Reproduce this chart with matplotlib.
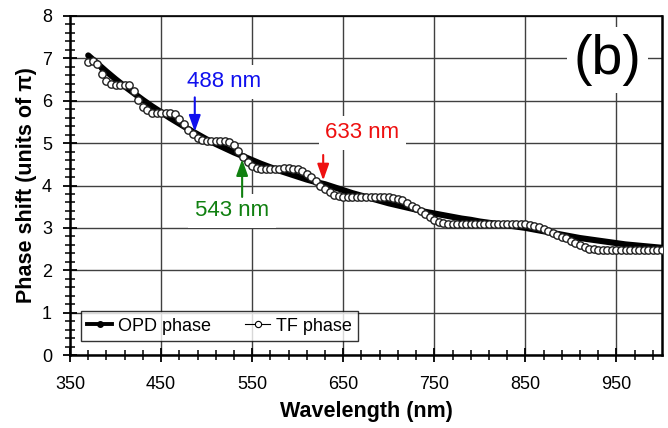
import numpy as np
import matplotlib
matplotlib.use("Agg")
import matplotlib.pyplot as plt
from matplotlib.lines import Line2D

plt.rcParams['font.family'] = ['Liberation Sans', 'DejaVu Sans']

# ---------------- data ----------------
opd_wl = [370, 380, 390, 400, 410, 420, 430, 440, 450, 460, 470, 480, 490, 500,
          510, 520, 530, 540, 550, 560, 570, 580, 590, 600, 610, 620, 630, 640,
          650, 660, 670, 680, 690, 700, 710, 720, 730, 740, 750, 760, 770, 780,
          790, 800, 810, 820, 830, 840, 850, 860, 870, 880, 890, 900, 910, 920,
          930, 940, 950, 960, 970, 980, 990, 1000]
opd_phase = [7.07, 6.88, 6.69, 6.51, 6.34, 6.18, 6.02, 5.87, 5.73, 5.59, 5.46,
             5.33, 5.21, 5.09, 4.98, 4.88, 4.78, 4.69, 4.60, 4.51, 4.43, 4.35,
             4.28, 4.21, 4.14, 4.08, 4.03, 3.96, 3.89, 3.82, 3.76, 3.70, 3.64,
             3.58, 3.53, 3.48, 3.43, 3.38, 3.34, 3.30, 3.26, 3.22, 3.19, 3.15,
             3.12, 3.09, 3.06, 3.03, 3.00, 2.96, 2.92, 2.88, 2.84, 2.80, 2.76,
             2.73, 2.70, 2.67, 2.64, 2.61, 2.59, 2.57, 2.55, 2.53]

tf_wl = [370, 375, 380, 385, 390, 395, 400, 405, 410, 415, 420, 425, 430, 435,
         440, 445, 450, 455, 460, 465, 470, 475, 480, 485, 490, 495, 500, 505,
         510, 515, 520, 525, 530, 535, 540, 545, 550, 555, 560, 565, 570, 575,
         580, 585, 590, 595, 600, 605, 610, 615, 620, 625, 630, 635, 640, 645,
         650, 655, 660, 665, 670, 675, 680, 685, 690, 695, 700, 705, 710, 715,
         720, 725, 730, 735, 740, 745, 750, 755, 760, 765, 770, 775, 780, 785,
         790, 795, 800, 805, 810, 815, 820, 825, 830, 835, 840, 845, 850, 855,
         860, 865, 870, 875, 880, 885, 890, 895, 900, 905, 910, 915, 920, 925,
         930, 935, 940, 945, 950, 955, 960, 965, 970, 975, 980, 985, 990, 995,
         1000]
tf_phase = [6.92, 6.94, 6.86, 6.64, 6.47, 6.39, 6.37, 6.37, 6.38, 6.36, 6.23,
            6.02, 5.86, 5.77, 5.72, 5.71, 5.71, 5.72, 5.71, 5.68, 5.58, 5.45,
            5.32, 5.21, 5.12, 5.07, 5.05, 5.05, 5.05, 5.06, 5.05, 5.03, 4.95,
            4.81, 4.67, 4.55, 4.47, 4.42, 4.40, 4.40, 4.40, 4.40, 4.40, 4.41,
            4.41, 4.40, 4.39, 4.35, 4.28, 4.19, 4.10, 4.00, 3.91, 3.84, 3.78,
            3.75, 3.73, 3.72, 3.72, 3.72, 3.72, 3.72, 3.72, 3.73, 3.73, 3.73,
            3.72, 3.71, 3.69, 3.65, 3.59, 3.52, 3.46, 3.40, 3.33, 3.25, 3.18,
            3.13, 3.11, 3.10, 3.10, 3.09, 3.09, 3.09, 3.09, 3.09, 3.09, 3.09,
            3.09, 3.09, 3.09, 3.09, 3.09, 3.09, 3.09, 3.08, 3.08, 3.07, 3.05,
            3.02, 2.98, 2.93, 2.88, 2.83, 2.79, 2.75, 2.70, 2.64, 2.59, 2.55,
            2.51, 2.49, 2.48, 2.47, 2.47, 2.47, 2.47, 2.47, 2.47, 2.47, 2.47,
            2.47, 2.47, 2.47, 2.47, 2.47, 2.47]

series_labels = ["OPD phase", "TF phase"]
x_ticks = [350, 450, 550, 650, 750, 850, 950]
y_ticks = [0, 1, 2, 3, 4, 5, 6, 7, 8]

# annotations: (text, color, text position, arrow tail, arrow tip)
annots = [
    ("488 nm", "#1010ee", (519, 6.45), (487, 6.08), (487, 5.27)),
    ("543 nm", "#108010", (528, 3.40), (539, 3.73), (539, 4.62)),
    ("633 nm", "#ee1010", (671, 5.24), (628, 4.72), (628, 4.12)),
]

# ---------------- figure ----------------
fig = plt.figure(figsize=(6.68, 4.28), dpi=100)
ax = fig.add_axes([70/668, 1 - 355/428, 592/668, 339/428])

ax.set_xlim(350, 1000)
ax.set_ylim(0, 8)

ax.set_xticks(x_ticks)
ax.set_xticks([v for v in range(350, 1001, 20) if v not in x_ticks], minor=True)
ax.set_yticks(y_ticks)
ax.set_yticks([v / 5 for v in range(0, 41) if v % 5 != 0], minor=True)

ax.grid(True, which='major', color='#404040', lw=1.0, zorder=0)
ax.set_axisbelow(True)

ax.tick_params(axis='both', which='major', direction='inout', length=10,
               width=1.3, labelsize=13, color='black')
ax.tick_params(axis='both', which='minor', direction='inout', length=7,
               width=1.1, color='black')
ax.tick_params(axis='x', which='major', pad=10)
ax.tick_params(axis='y', which='major', pad=8)

for side in ['left', 'bottom', 'right']:
    ax.spines[side].set_linewidth(1.8)
ax.spines['top'].set_linewidth(1.2)

# OPD phase: thick black band
ax.plot(opd_wl, opd_phase, color='black', lw=4.4, solid_capstyle='round',
        zorder=3)
# TF phase: open circles (dense chain)
ax.plot(tf_wl, tf_phase, color='black', lw=0.8, marker='o', ms=5.3,
        mfc='white', mec='#202020', mew=1.0, zorder=4)

ax.set_xlabel("Wavelength (nm)", fontsize=15.5, fontweight='bold')
ax.set_ylabel("Phase shift (units of \u03c0)", fontsize=15.5, fontweight='bold')
ax.xaxis.set_label_coords(0.5, -0.135)
ax.yaxis.set_label_coords(-0.055, 0.5)

for txt, col, tpos, tail, tip in annots:
    ax.text(tpos[0], tpos[1], txt, color=col, fontsize=16, ha='center',
            va='center', zorder=6,
            bbox=dict(boxstyle='square,pad=0.3', fc='white', ec='none'))
    ax.annotate('', xy=tip, xytext=tail, zorder=7,
                arrowprops=dict(arrowstyle='-|>,head_width=0.25,head_length=0.7',
                                color=col, lw=1.5, mutation_scale=14,
                                shrinkA=0, shrinkB=0))

ax.text(940, 6.96, "(b)", fontsize=40, ha='center', va='center', zorder=6,
        bbox=dict(boxstyle='square,pad=0.12', fc='white', ec='none'))

handles = [
    Line2D([], [], color='black', lw=2.8, marker='o', ms=4, mfc='black',
           mec='black'),
    Line2D([], [], color='black', lw=0.8, marker='o', ms=4.5, mfc='white',
           mec='black', mew=0.8),
]
leg = ax.legend(handles, series_labels, loc='lower left',
                bbox_to_anchor=(0.018, 0.041), borderaxespad=0, ncol=2,
                fontsize=13, frameon=True, fancybox=False, handlelength=1.4,
                handletextpad=0.3, columnspacing=1.9, borderpad=0.35)
leg.get_frame().set_edgecolor('black')
leg.get_frame().set_linewidth(1.0)
leg.set_zorder(10)

fig.savefig("out.png", dpi=100)
